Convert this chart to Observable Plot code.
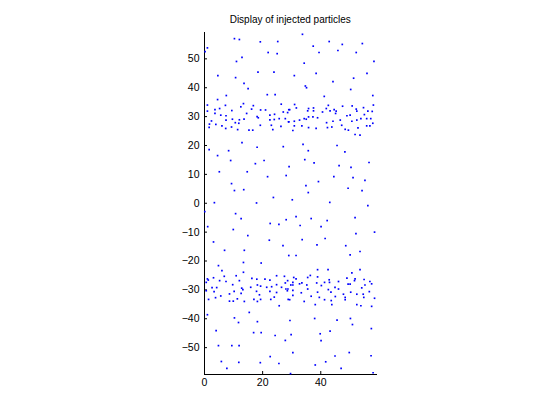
<!DOCTYPE html>
<html>
<head>
<meta charset="utf-8">
<script src="https://cdn.jsdelivr.net/npm/d3@7"></script>
<script src="https://cdn.jsdelivr.net/npm/@observablehq/plot@0.6"></script>
<style>
  html, body { margin: 0; padding: 0; background: #fff; }
  #chart { width: 560px; height: 420px; }
</style>
</head>
<body>
<div id="chart"></div>
<script>
const titleText = "Display of injected particles";
const xTicks = [0, 20, 40];
const yTicks = [-50, -40, -30, -20, -10, 0, 10, 20, 30, 40, 50];

const upperScatter = [[1.0,53.8],[0.2,52.5],[10.3,57.0],[12.0,56.7],[11.0,49.1],[12.9,50.5],[4.6,44.2],[10.7,43.5],[18.4,45.4],[23.9,45.4],[19.2,55.9],[21.9,52.2],[25.2,56.0],[25.0,51.8],[13.6,41.5],[15.0,39.7],[21.6,37.6],[24.3,37.6],[7.5,37.3],[33.7,58.5],[30.9,44.2],[34.3,48.5],[37.4,54.4],[39.4,52.2],[34.7,40.6],[35.1,40.0],[38.4,45.0],[42.9,56.0],[45.9,52.9],[47.4,55.0],[44.2,42.1],[50.3,39.4],[51.3,43.3],[52.2,52.2],[54.3,55.3],[55.9,45.0],[58.3,49.1],[57.9,37.3]];

const upperBand = [[1.0,34.0],[1.0,31.9],[4.5,35.9],[3.6,32.4],[5.2,32.8],[3.6,31.1],[7.2,33.9],[13.4,34.5],[12.5,33.4],[16.8,33.8],[9.4,32.1],[16.2,32.6],[19.3,32.3],[21.0,32.3],[26.4,34.3],[27.1,31.6],[29.0,32.4],[5.6,30.5],[7.4,30.3],[14.5,31.1],[18.1,30.0],[18.5,29.6],[22.5,30.5],[24.1,30.8],[2.4,28.5],[7.4,28.8],[9.6,29.1],[12.0,28.9],[13.6,29.1],[22.5,28.9],[24.0,29.0],[25.7,29.3],[27.8,29.3],[1.7,27.4],[3.9,27.3],[6.0,26.8],[10.6,27.9],[11.8,27.7],[19.2,27.0],[1.6,26.3],[7.3,25.9],[9.3,26.4],[11.4,25.5],[15.3,25.3],[16.6,25.3],[23.0,27.0],[23.5,25.5],[26.3,26.6],[28.9,28.2],
[31.0,34.2],[29.3,32.4],[28.6,31.4],[31.6,33.0],[41.2,37.0],[35.8,32.8],[35.5,32.0],[37.5,33.0],[37.5,32.0],[40.6,31.6],[41.9,32.8],[42.6,33.9],[43.2,32.0],[44.6,32.4],[45.3,31.9],[45.1,31.1],[47.5,33.6],[50.8,33.7],[52.2,32.6],[52.4,31.9],[54.7,33.1],[56.2,31.9],[58.1,34.0],[57.7,31.8],[32.7,28.8],[30.9,28.4],[29.0,28.2],[34.3,29.3],[35.8,29.9],[35.0,29.1],[37.3,29.9],[38.9,29.6],[42.0,27.9],[44.2,28.4],[46.7,28.8],[49.0,30.3],[50.1,30.5],[50.7,28.4],[52.4,28.8],[53.8,29.3],[55.0,30.7],[55.8,29.3],[57.2,29.3],[30.9,26.8],[33.5,26.8],[35.8,26.2],[38.4,25.9],[42.3,26.2],[43.8,26.4],[47.2,27.0],[48.4,25.6],[49.5,25.3],[52.8,26.1],[55.8,26.8],[56.9,26.8],[57.9,27.7],[30.4,25.2],[51.8,23.8],[53.5,23.6]];

const middleScatter = [[12.9,21.0],[33.9,20.4],[45.6,20.0],[1.6,18.6],[4.5,16.5],[8.3,18.2],[18.1,19.4],[9.0,14.8],[5.1,10.9],[9.3,6.8],[10.3,4.4],[13.5,4.7],[14.7,10.9],[17.5,13.7],[20.5,14.8],[21.7,9.2],[3.4,0.2],[17.9,0.1],[23.7,2.0],[27.1,19.6],[29.1,12.7],[28.1,9.6],[35.7,18.2],[34.5,15.1],[37.7,14.0],[39.2,7.5],[34.9,6.1],[35.7,3.7],[30.2,1.2],[48.3,17.8],[46.3,13.0],[50.4,12.4],[44.5,9.2],[51.1,8.9],[49.4,5.2],[55.2,7.9],[56.6,14.1],[54.2,4.4],[43.1,0.3],[56.2,-0.8],[0.1,-2.9],[10.7,-3.6],[12.6,-5.3],[1.1,-8.1],[9.9,-9.1],[14.9,-11.2],[3.1,-13.4],[6.9,-16.3],[13.7,-16.3],[22.6,-7.0],[25.6,-7.3],[28.1,-5.7],[31.5,-4.6],[32.9,-7.7],[36.7,-5.3],[40.1,-8.1],[42.2,-6.0],[22.3,-12.8],[27.0,-14.7],[33.6,-12.6],[38.7,-14.4],[41.5,-12.2],[29.0,-18.1],[31.5,-18.1],[48.6,-14.7],[51.8,-5.0],[52.1,-10.5],[53.5,-16.7],[50.1,-17.9],[58.5,-10.0]];

const lowerBand = [[13.4,-20.5],[4.8,-21.6],[6.0,-23.3],[13.4,-23.9],[19.5,-20.7],[1.0,-26.2],[1.3,-26.6],[3.1,-25.8],[0.6,-27.4],[5.2,-26.8],[6.8,-25.3],[7.4,-27.1],[10.9,-25.1],[12.0,-26.8],[16.3,-26.0],[18.0,-26.3],[20.8,-26.3],[22.5,-26.6],[24.8,-25.1],[27.5,-25.3],[27.8,-27.6],[28.6,-26.8],[9.7,-28.2],[2.6,-29.2],[4.2,-29.2],[12.8,-29.4],[13.2,-29.9],[15.9,-29.1],[18.2,-28.3],[19.3,-28.7],[21.4,-29.1],[23.1,-28.9],[24.8,-28.2],[26.5,-29.1],[28.0,-29.7],[0.6,-30.3],[3.3,-30.6],[8.6,-31.4],[10.2,-30.5],[12.6,-31.2],[17.9,-30.5],[18.9,-31.7],[22.5,-30.5],[24.8,-30.9],[28.5,-30.3],[1.4,-33.3],[3.8,-32.7],[5.6,-32.1],[8.6,-33.9],[9.9,-33.9],[11.3,-33.1],[13.7,-34.0],[17.0,-33.3],[18.2,-34.0],[19.3,-33.3],[22.8,-33.3],[24.0,-32.5],[25.7,-35.5],[28.8,-33.3],
[38.9,-23.0],[42.5,-23.0],[53.5,-23.0],[50.7,-24.1],[36.4,-25.0],[35.5,-25.7],[30.7,-25.7],[31.5,-26.2],[38.9,-25.5],[42.9,-26.5],[43.0,-27.4],[41.3,-27.4],[46.1,-27.1],[38.6,-27.6],[30.4,-27.4],[29.7,-28.3],[30.4,-28.3],[33.5,-27.6],[32.7,-27.9],[35.2,-28.3],[40.2,-28.5],[44.9,-29.1],[49.0,-25.9],[49.4,-28.0],[50.1,-28.0],[51.8,-26.2],[51.6,-26.8],[54.9,-26.4],[55.2,-28.3],[56.9,-27.1],[57.5,-27.9],[28.7,-29.7],[30.4,-30.2],[35.5,-29.7],[42.6,-29.9],[46.1,-29.7],[54.1,-29.3],[56.7,-30.6],[33.3,-31.0],[38.9,-30.8],[43.5,-30.8],[50.3,-30.8],[47.8,-31.5],[52.4,-31.5],[54.6,-31.5],[30.4,-31.9],[36.7,-32.2],[39.5,-32.6],[45.0,-32.3],[48.4,-32.6],[54.8,-32.6],[58.5,-32.9],[29.3,-33.4],[34.3,-34.0],[41.3,-33.4],[43.6,-33.7],[48.4,-33.4],[38.1,-35.1],[43.8,-35.1],[52.4,-35.1],[53.8,-35.5],[57.5,-35.7]];

const lowerScatter = [[1.0,-38.6],[4.0,-44.1],[10.3,-39.7],[11.7,-41.3],[15.4,-37.8],[18.2,-41.0],[16.9,-44.8],[19.5,-44.8],[24.3,-45.8],[29.4,-40.6],[29.8,-45.5],[27.8,-47.5],[37.9,-39.9],[39.8,-45.2],[40.1,-47.6],[43.2,-44.3],[45.6,-40.5],[50.2,-39.9],[50.9,-42.0],[57.4,-43.4],[4.8,-49.3],[9.4,-49.3],[11.9,-49.3],[30.4,-51.7],[44.9,-52.9],[49.8,-51.7],[57.3,-52.8],[5.8,-54.8],[11.8,-55.1],[7.7,-57.2],[19.2,-55.2],[22.6,-53.1],[25.6,-55.5],[29.6,-59.0],[38.1,-56.0],[41.7,-54.9],[47.0,-57.2],[58.0,-58.7]];

const particles = [...upperScatter, ...upperBand, ...middleScatter, ...lowerBand, ...lowerScatter]
  .map(([x, y]) => ({x, y}));

const chart = Plot.plot({
  width: 560,
  height: 420,
  marginLeft: 204,
  marginRight: 184.5,
  marginTop: 31.5,
  marginBottom: 46,
  x: {domain: [0, 59]},
  y: {domain: [-59.3, 59.3]},
  style: {fontFamily: "'Liberation Sans', Arial, sans-serif", fontSize: "10px", background: "#fff", color: "#000"},
  marks: [
    Plot.frame({anchor: "left", stroke: "#000", shapeRendering: "crispEdges"}),
    Plot.frame({anchor: "bottom", stroke: "#000", shapeRendering: "crispEdges"}),
    Plot.axisX({ticks: xTicks, tickSize: -3, tickPadding: 7, label: null, fontSize: 10.5}),
    Plot.axisY({ticks: yTicks, tickSize: -3, tickPadding: 8, label: null, fontSize: 10.5}),
    Plot.dot(particles, {x: "x", y: "y", r: 0.95, symbol: "square", fill: "#0000ff", stroke: "none"}),
    Plot.text([titleText], {frameAnchor: "top", text: d => d, dy: -9, lineAnchor: "bottom", fontSize: 10, fill: "#000"})
  ]
});
document.getElementById("chart").appendChild(chart);
</script>
</body>
</html>
